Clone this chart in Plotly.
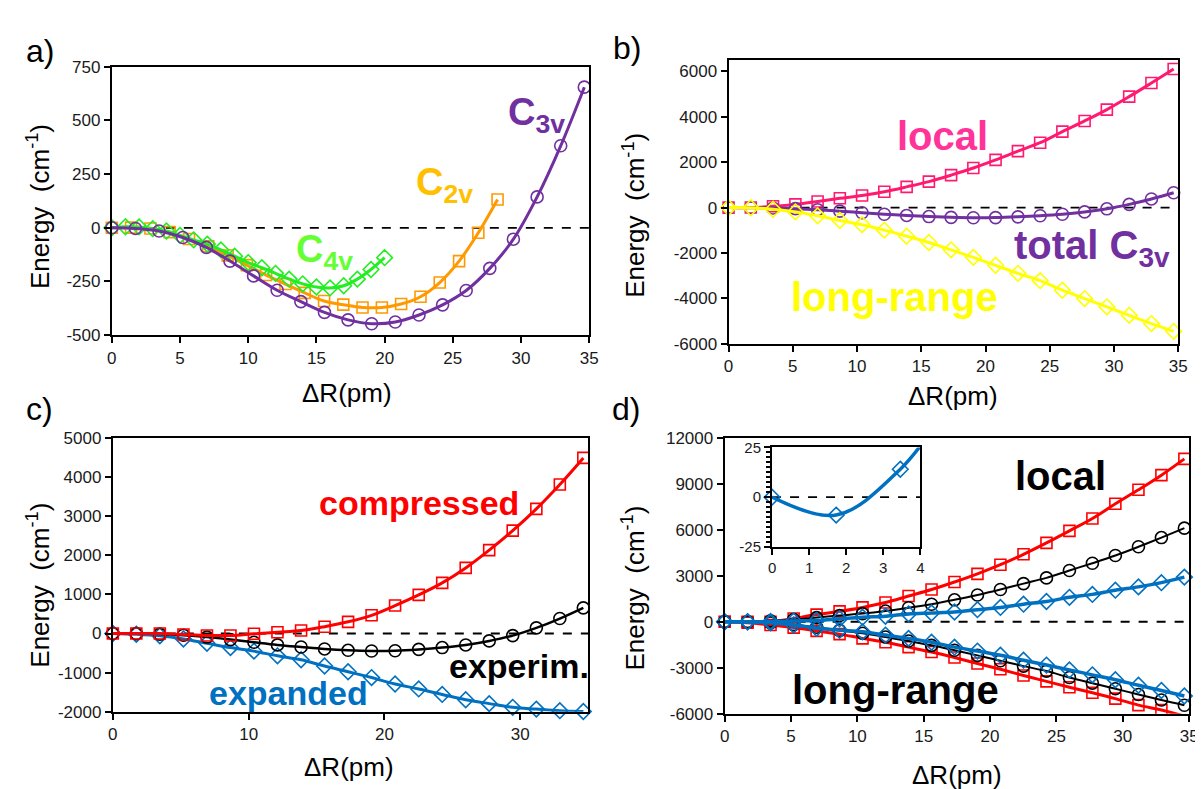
import plotly.graph_objects as go

W, H = 1203, 789
FONT = "Arial, Liberation Sans, sans-serif"

# ---------------- data ----------------
# x positions (pm)
X3 = [0, 1.73, 3.46, 5.2, 6.93, 8.66, 10.39, 12.12, 13.86, 15.59, 17.32, 19.05,
      20.78, 22.52, 24.25, 25.98, 27.71, 29.44, 31.18, 32.91, 34.64]
X2 = [0, 1.41, 2.83, 4.24, 5.66, 7.07, 8.49, 9.9, 11.31, 12.73, 14.14, 15.56,
      16.97, 18.38, 19.8, 21.21, 22.63, 24.04, 25.46, 26.87, 28.28]
X4 = [0, 1, 2, 3, 4, 5, 6, 7, 8, 9, 10, 11, 12, 13, 14, 15, 16, 17, 18, 19, 20]

# panel a
C3V = [0, -3, -15, -45, -91, -155, -224, -291, -344, -394, -429, -447, -439,
       -406, -359, -292, -189, -53, 144, 382, 655]
C2V = [0, 1, -3, -20, -52, -86, -129, -174, -220, -262, -303, -341, -358,
       -371, -371, -355, -321, -255, -155, -23, 132]
C4V = [0, 5, 4, -4, -15, -35, -56, -76, -103, -132, -162, -186, -212, -239,
       -261, -276, -280, -270, -239, -194, -139]

# panel b
LOCAL_C3V = [0, 3, 57, 143, 270, 410, 530, 700, 914, 1143, 1429, 1743, 2100,
             2486, 2857, 3343, 3814, 4314, 4886, 5486, 6100]
LONG_C3V = [0, -6, -72, -188, -361, -565, -754, -991, -1258, -1537, -1858,
            -2190, -2539, -2892, -3216, -3635, -4003, -4367, -4742, -5104, -5445]

# panel c
COMPRESSED = [0, 0, 0, -25, -50, -50, -8, 33, 75, 174, 298, 464, 713, 986,
              1293, 1674, 2129, 2626, 3181, 3803, 4482]
EXPANDED = [0, -20, -60, -140, -250, -360, -450, -570, -670, -830, -975,
            -1125, -1290, -1415, -1555, -1690, -1790, -1885, -1930, -1970, -1990]

# panel d
LOCAL_COMP = [0, 0, 0, 212, 467, 679, 934, 1253, 1677, 2102, 2590, 3121, 3715,
              4395, 5138, 5924, 6730, 7686, 8599, 9554, 10616]
LONG_COMP = [0, -64, -212, -382, -594, -807, -1083, -1338, -1656, -1975, -2335,
             -2718, -3100, -3503, -3885, -4268, -4629, -5011, -5435, -5753, -6150]
LOCAL_EXP = [0, -9, 14, 55, 85, 191, 297, 361, 510, 573, 637, 786, 934, 1146,
             1316, 1592, 1783, 2059, 2272, 2548, 2909]
LONG_EXP = [0, 0, -64, -212, -425, -552, -658, -870, -1083, -1338, -1656,
            -1911, -2187, -2505, -2824, -3142, -3461, -3779, -4140, -4480, -4841]

# tick values
A_YT = [-500, -250, 0, 250, 500, 750]
B_YT = [-6000, -4000, -2000, 0, 2000, 4000, 6000]
C_YT = [-2000, -1000, 0, 1000, 2000, 3000, 4000, 5000]
D_YT = [-6000, -3000, 0, 3000, 6000, 9000, 12000]
I_YT = [-25, 0, 25]
X5 = [0, 5, 10, 15, 20, 25, 30, 35]
X10 = [0, 10, 20, 30]
XI = [0, 1, 2, 3, 4]

PURPLE = "#7030A0"
ORANGE = "#FF9900"
GREEN = "#22EE22"
PINK = "#FF1A70"
YELLOW = "#FFFF00"
RED = "#FF0000"
BLUE = "#0070C0"
BLACK = "#000000"

fig = go.Figure()


def add(x, y, color, symbol, xa, ya, size=11, lw=3, clip=False, mode="lines+markers"):
    fig.add_trace(go.Scatter(
        x=x, y=y, mode=mode, xaxis=xa, yaxis=ya,
        line=dict(color=color, width=lw, shape="spline", smoothing=1.0),
        marker=dict(symbol=symbol, size=size, color=color,
                    line=dict(color=color, width=1.6)),
        cliponaxis=clip, showlegend=False, hoverinfo="skip"))


# panel a
add(X2, C2V, ORANGE, "square-open", "x", "y", size=11)
add(X4, C4V, GREEN, "diamond-open", "x", "y", size=12)
add(X3, C3V, PURPLE, "circle-open", "x", "y", size=12)
# panel b
add(X3, LOCAL_C3V, PINK, "square-open", "x2", "y2", size=11)
add(X3, C3V, PURPLE, "circle-open", "x2", "y2", size=12)
add(X3, LONG_C3V, YELLOW, "diamond-open", "x2", "y2", size=12)
# panel c
add(X3, EXPANDED, BLUE, "diamond-open", "x3", "y3", size=12)
add(X3, C3V, BLACK, "circle-open", "x3", "y3", size=12, lw=2.5)
add(X3, COMPRESSED, RED, "square-open", "x3", "y3", size=11)
# panel d
add(X3, LOCAL_COMP, RED, "square-open", "x4", "y4", size=11)
add(X3, LONG_COMP, RED, "square-open", "x4", "y4", size=11, clip=True)
add(X3, LOCAL_C3V, BLACK, "circle-open", "x4", "y4", size=12, lw=2)
add(X3, LONG_C3V, BLACK, "circle-open", "x4", "y4", size=12, lw=2)
add(X3, LOCAL_EXP, BLUE, "diamond-open", "x4", "y4", size=12, lw=3.5)
add(X3, LONG_EXP, BLUE, "diamond-open", "x4", "y4", size=12, lw=3.5)
# inset
add(X3, LOCAL_EXP, BLUE, "diamond-open", "x5", "y5", lw=3.5, clip=True, mode="lines")
add(X3[:3], LOCAL_EXP[:3], BLUE, "diamond-open", "x5", "y5", size=12, mode="markers")


def dx(a, b):
    return [a / W, b / W]


def dy(top, bottom):
    return [1 - bottom / H, 1 - top / H]


def axis(dom, rng, tv, anchor, fs=17, **kw):
    d = dict(domain=dom, range=rng, tickvals=tv, ticktext=[str(v) for v in tv],
             anchor=anchor, showline=True, linecolor="black", linewidth=2,
             mirror=True, ticks="outside", ticklen=6, tickwidth=2,
             tickcolor="black", showgrid=False, zeroline=False,
             tickfont=dict(family=FONT, size=fs, color="#1a1a1a"))
    d.update(kw)
    return d


fig.update_layout(
    width=W, height=H, margin=dict(l=0, r=0, t=0, b=0),
    paper_bgcolor="white", plot_bgcolor="white",
    xaxis=axis(dx(100, 583), [0, 35], X5, "y"),
    yaxis=axis(dy(51, 326), [-500, 750], A_YT, "x"),
    xaxis2=axis(dx(724, 1179), [0, 35], X5, "y2"),
    yaxis2=axis(dy(44, 335), [-6000, 6500], B_YT, "x2"),
    xaxis3=axis(dx(101, 582), [0, 35], X10, "y3"),
    yaxis3=axis(dy(431, 712), [-2000, 5000], C_YT, "x3"),
    xaxis4=axis(dx(720, 1190), [0, 35], X5, "y4"),
    yaxis4=axis(dy(431, 714), [-6000, 12000], D_YT, "x4"),
    xaxis5=axis(dx(768, 918), [0, 4], XI, "y5", fs=15),
    yaxis5=axis(dy(441, 543), [-25, 25], I_YT, "x5", fs=15,
                minor=dict(dtick=2.5, ticks="outside", ticklen=4, tickwidth=1.5,
                           tickcolor="black")),
)

# dashed zero lines
for xr, yr, x1 in [("x", "y", 35), ("x2", "y2", 35), ("x3", "y3", 35),
                   ("x4", "y4", 35), ("x5", "y5", 4)]:
    fig.add_shape(type="line", xref=xr, yref=yr, x0=0, x1=x1, y0=0, y1=0,
                  line=dict(color="black", width=1.8, dash="dash"), layer="below")


def note(text, xp, yp, size, color="black", angle=0):
    fig.add_annotation(text=text, x=xp / W, y=1 - yp / H, xref="paper", yref="paper",
                       xanchor="center", yanchor="middle", showarrow=False,
                       textangle=angle,
                       font=dict(family=FONT, size=size, color=color))


# panel letters
note("a)", 27, 35, 32)
note("b)", 621, 32, 32)
note("c)", 27, 402, 32)
note("d)", 620, 402, 32)

# axis titles
ET = "Energy  (cm<sup>-1</sup>)"
note(ET, 26, 194, 26, angle=-90)
note(ET, 628, 203, 26, angle=-90)
note(ET, 26, 582, 26, angle=-90)
note(ET, 628, 585, 26, angle=-90)
XT = "ΔR(pm)"
note(XT, 338, 385, 26)
note(XT, 951, 388, 26)
note(XT, 340, 768, 26)
note(XT, 955, 777, 26)

# series labels
note("<b>C<sub>3v</sub></b>", 530, 100, 38, PURPLE)
note("<b>C<sub>2v</sub></b>", 437, 172, 38, "#FFC000")
note("<b>C<sub>4v</sub></b>", 315, 241, 38, "#66FF33")
note("<b>local</b>", 940, 122, 40, "#FF3399")
note("<b>total C<sub>3v</sub></b>", 1092, 237, 40, PURPLE)
note("<b>long-range</b>", 892, 287, 40, YELLOW)
note("<b>compressed</b>", 411, 498, 34, RED)
note("<b>experim.</b>", 512, 665, 34, BLACK)
note("<b>expanded</b>", 279, 693, 34, BLUE)
note("<b>local</b>", 1060, 470, 40, BLACK)
note("<b>long-range</b>", 893, 690, 40, BLACK)

fig.write_html("out.html")
